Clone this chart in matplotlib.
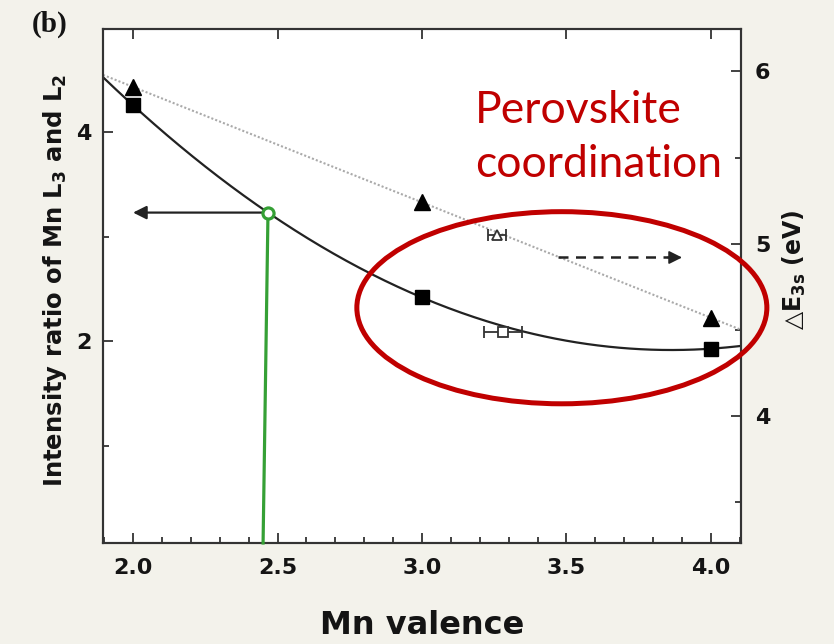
import numpy as np
import matplotlib.pyplot as plt
from matplotlib.patches import Ellipse
from matplotlib.ticker import MultipleLocator, FormatStrFormatter

plt.rcParams['font.family'] = ['DejaVu Sans']
plt.rcParams['font.weight'] = 'bold'
plt.rcParams['mathtext.fontset'] = 'dejavusans'

# reference oxides (MnO, Mn2O3, MnO2)
valence = [2.0, 3.0, 4.0]
l3_l2_ratio = [4.26, 2.42, 1.93]
delta_e3s = [5.91, 5.24, 4.57]

# perovskite sample with valence uncertainty
perov_ratio_valence = [3.28]
perov_ratio = [2.09]
perov_ratio_xerr = [0.065]
perov_de_valence = [3.26]
perov_de = [5.05]
perov_de_xerr = [0.031]

# valence
valence_est = 2.467
valence_est_foot = 2.45

# axis ranges
x_range = (1.896, 4.104)
ratio_range = (0.07, 4.99)
de_range = (3.263, 6.246)

ink = '#141414'
red = '#c00000'
green = '#35a035'

fig = plt.figure(figsize=(8.34, 6.44), dpi=100, facecolor='#f3f2eb')
ax = fig.add_axes([103 / 834, 1 - 543 / 644, 638 / 834, 514 / 644])
ax.set_facecolor('white')
ax2 = ax.twinx()

xfit = np.linspace(x_range[0], x_range[1], 300)
ratio_coef = np.polyfit(valence, l3_l2_ratio, 2)
de_coef = np.polyfit(valence, delta_e3s, 1)

# left axis: L3/L2 intensity ratio
ax.plot(xfit, np.polyval(ratio_coef, xfit), color='#222222', lw=1.6, zorder=2)
ax.plot(valence, l3_l2_ratio, 's', color='black', ms=10, zorder=3)
ax.errorbar(perov_ratio_valence, perov_ratio, xerr=perov_ratio_xerr, fmt='s',
            mfc='white', mec='#333333', mew=1.3, ms=7, ecolor='#333333',
            elinewidth=1.3, capsize=4, capthick=1.3, zorder=3)

# right axis: 3s exchange splitting
ax2.plot(xfit, np.polyval(de_coef, xfit), color='#aaaaaa', lw=1.5,
         ls=(0, (1, 1)), zorder=2)
ax2.plot(valence, delta_e3s, '^', color='black', ms=11, zorder=3)
ax2.errorbar(perov_de_valence, perov_de, xerr=perov_de_xerr, fmt='^',
             mfc='white', mec='#333333', mew=1.3, ms=7, ecolor='#333333',
             elinewidth=1.3, capsize=4, capthick=1.3, zorder=3)

ax.set_xlim(*x_range)
ax.set_ylim(*ratio_range)
ax2.set_ylim(*de_range)

ax.xaxis.set_major_locator(MultipleLocator(0.5))
ax.xaxis.set_minor_locator(MultipleLocator(0.1))
ax.xaxis.set_major_formatter(FormatStrFormatter('%.1f'))
ax.yaxis.set_major_locator(MultipleLocator(2))
ax.yaxis.set_minor_locator(MultipleLocator(1))
ax2.yaxis.set_major_locator(MultipleLocator(1))
ax2.yaxis.set_minor_locator(MultipleLocator(0.5))

for a in (ax, ax2):
    a.tick_params(which='both', direction='in', width=1.3, color='#333333',
                  labelsize=16, labelcolor=ink)
    a.tick_params(which='major', length=7)
    a.tick_params(which='minor', length=4)
    for s in a.spines.values():
        s.set_linewidth(1.5)
        s.set_color('#333333')
ax.tick_params(axis='x', top=True, pad=11)
ax.tick_params(axis='y', right=False, pad=8)
ax2.tick_params(axis='y', pad=10)

# arrows pointing to the relevant axis
y_est = np.polyval(ratio_coef, valence_est)
ax.annotate('', xy=(2.0, y_est), xytext=(valence_est - 0.015, y_est),
            arrowprops=dict(arrowstyle='-|>', color='#222222', lw=1.6,
                            mutation_scale=20, shrinkA=0, shrinkB=0), zorder=4)
ax2.plot([3.47, 3.86], [4.92, 4.92], color='#222222', lw=1.8,
         ls=(0, (4, 3)), zorder=4)
ax2.annotate('', xy=(3.90, 4.92), xytext=(3.85, 4.92),
             arrowprops=dict(arrowstyle='-|>', color='#222222', lw=1.2,
                             mutation_scale=20, shrinkA=0, shrinkB=0), zorder=4)

# green guide line from the estimated point down to the valence axis
ax2.plot([valence_est, valence_est_foot], [y_est, ratio_range[0]], color=green,
         lw=2.3, transform=ax.transData, clip_on=False, zorder=6)
ax2.plot([valence_est], [y_est], 'o', mfc='white', mec=green, mew=2.3, ms=8,
         transform=ax.transData, zorder=7)

ax2.add_patch(Ellipse((3.484, 2.322), 1.419, 1.839, transform=ax.transData,
                      fill=False, ec=red, lw=3.6, clip_on=False, zorder=8))

fig.text(475 / 834, 1 - 177 / 644, 'Perovskite\ncoordination', color=red,
         fontsize=32, family='Lato', weight='normal', va='baseline',
         ha='left', linespacing=1.39)

fig.text(422 / 834, 1 - 625 / 644, 'Mn valence', fontsize=23, ha='center',
         va='center', color=ink)
fig.text(55 / 834, 1 - 280 / 644,
         r'Intensity ratio of Mn L$_\mathbf{3}$ and L$_\mathbf{2}$',
         fontsize=17.5, rotation=90, ha='center', va='center', color=ink)
fig.text(794 / 834, 1 - 270 / 644, r'△E$_\mathbf{3s}$ (eV)', fontsize=17,
         rotation=90, ha='center', va='center', color=ink)
fig.text(32 / 834, 1 - 24 / 644, '(b)', family='Liberation Serif',
         fontsize=21, ha='left', va='center', color=ink)

fig.savefig('out.png', dpi=100, facecolor=fig.get_facecolor())
